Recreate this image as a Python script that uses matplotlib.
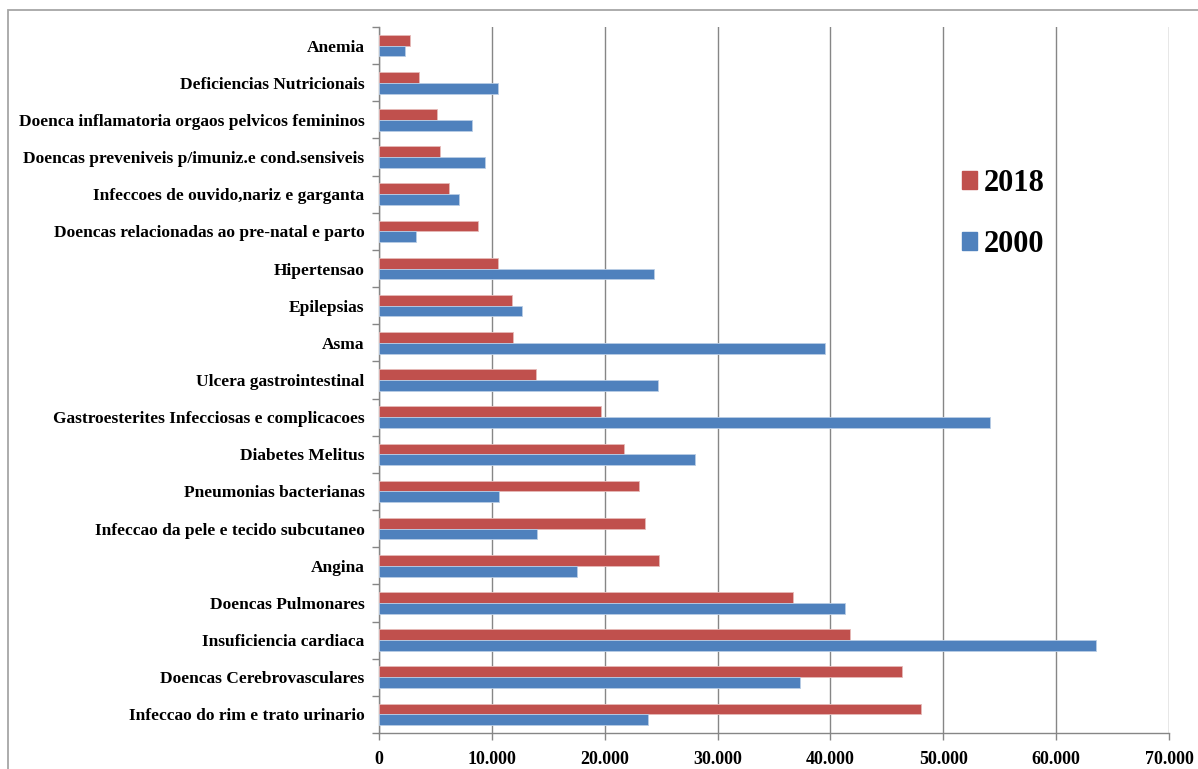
"""
Internacoes por condicoes sensiveis - 2000 x 2018
"""
import matplotlib
matplotlib.use("Agg")
import matplotlib.pyplot as plt
from matplotlib.patches import Patch, Rectangle
from matplotlib.ticker import FuncFormatter
import numpy as np

categories = [
    "Anemia",
    "Deficiencias Nutricionais",
    "Doenca inflamatoria orgaos pelvicos femininos",
    "Doencas preveniveis p/imuniz.e cond.sensiveis",
    "Infeccoes de ouvido,nariz e garganta",
    "Doencas relacionadas ao pre-natal e parto",
    "Hipertensao",
    "Epilepsias",
    "Asma",
    "Ulcera gastrointestinal",
    "Gastroesterites Infecciosas e complicacoes",
    "Diabetes Melitus",
    "Pneumonias bacterianas",
    "Infeccao da pele e tecido subcutaneo",
    "Angina",
    "Doencas Pulmonares",
    "Insuficiencia cardiaca",
    "Doencas Cerebrovasculares",
    "Infeccao do rim e trato urinario",
]
v2018 = [2770, 3570, 5160, 5370, 6200, 8730, 10530, 11790, 11880, 13880,
         19660, 21700, 23040, 23580, 24840, 36660, 41720, 46350, 48040]
v2000 = [2330, 10540, 8200, 9350, 7050, 3250, 24380, 12710, 39560, 24740,
         54150, 28000, 10620, 13980, 17540, 41280, 63510, 37300, 23820]
xticks = [0, 10000, 20000, 30000, 40000, 50000, 60000, 70000]

RED = "#C0504D"
BLUE = "#4F81BD"
GRID = "#868686"
FONT = "Liberation Serif"

fig = plt.figure(figsize=(11.98, 7.69), dpi=100)
ax = fig.add_axes([0.3164, 0.0468, 0.6594, 0.9181])

y = np.arange(len(categories))
h = 0.29
ax.barh(y - h / 2, v2018, height=h, color=RED, edgecolor="#E6B9B8", linewidth=0.6, zorder=3)
ax.barh(y + h / 2, v2000, height=h, color=BLUE, edgecolor="#B9CDE5", linewidth=0.6, zorder=3)

ax.set_ylim(len(categories) - 0.5, -0.5)
ax.set_xlim(0, 70000)

# labels on category centres, tick marks on boundaries
ax.set_yticks(y)
ax.set_yticklabels(categories, fontfamily=FONT, fontweight="bold", fontsize=12.5)
ax.set_yticks(np.arange(-0.5, len(categories)), minor=True)
ax.tick_params(axis="y", which="major", length=0, pad=10.5)
ax.tick_params(axis="y", which="minor", length=5, color=GRID, width=1)

ax.set_xticks(xticks)
ax.xaxis.set_major_formatter(FuncFormatter(lambda v, _: f"{int(v):,}".replace(",", ".")))
for lbl in ax.get_xticklabels():
    lbl.set_fontfamily(FONT)
    lbl.set_fontweight("bold")
    lbl.set_fontsize(13)
ax.tick_params(axis="x", length=5, color=GRID, width=1, pad=8)

ax.grid(axis="x", color=GRID, linewidth=1, zorder=0)
for side in ["top", "right"]:
    ax.spines[side].set_visible(False)
for side in ["left", "bottom"]:
    ax.spines[side].set_color(GRID)
    ax.spines[side].set_linewidth(1)

handles = [Patch(color=RED, label="2018"), Patch(color=BLUE, label="2000")]
fig.legend(handles=handles, loc="center left", bbox_to_anchor=(0.78, 0.722),
           frameon=False, handlelength=0.5, handleheight=0.5, handletextpad=0.2,
           labelspacing=1.05, prop={"family": FONT, "weight": "bold", "size": 22})

# outer chart border (cropped at right and bottom)
fig.patches.append(Rectangle((8 / 1198, -0.1), 1.2, 1.1 - 10 / 769, transform=fig.transFigure,
                             fill=False, edgecolor="#A6A6A6", linewidth=1.3))

fig.savefig("out.png", dpi=100)
